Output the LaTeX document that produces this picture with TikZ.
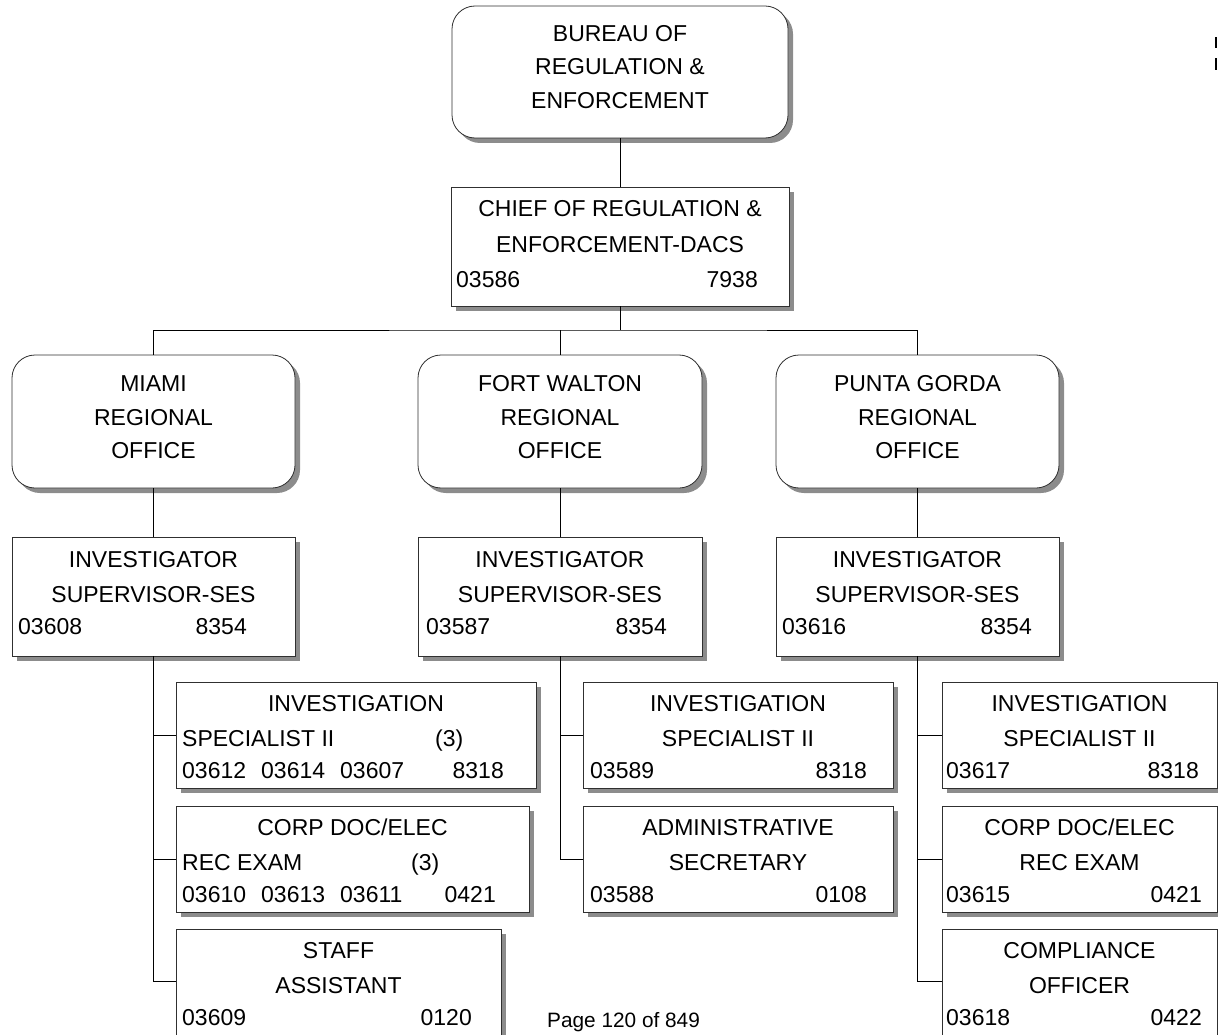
\documentclass[tikz,border=0pt]{standalone}
\usepackage{fontspec}
\setmainfont{Liberation Sans}
\usetikzlibrary{shadows}
\definecolor{shadowgray}{HTML}{8C8C8C}
\definecolor{framegray}{HTML}{303030}
\tikzset{
  orgbox/.style={draw=framegray, line width=0.8pt, fill=white, inner sep=0pt,
    drop shadow={shadow xshift=5pt, shadow yshift=-5pt, fill=shadowgray, opacity=1}},
  roundbox/.style={orgbox, rounded corners=23pt},
  link/.style={draw=black, line width=0.8pt},
  lbl/.style={inner sep=0pt, font=\fontsize{23}{28}\selectfont},
  pagelbl/.style={inner sep=0pt, font=\fontsize{20.8}{24}\selectfont},
}
% centred line, left-aligned line and right-aligned line
\newcommand\ctrtext[4]{\node[lbl, anchor=base] (#1) at (#2,#3) {#4};}
\newcommand\lfttext[4]{\node[lbl, anchor=base west] (#1) at (#2,#3) {#4};}
\newcommand\rgttext[4]{\node[lbl, anchor=base east] (#1) at (#2,#3) {#4};}
\begin{document}
\begin{tikzpicture}[x=1pt, y=-1pt]
\useasboundingbox (0,0) rectangle (1218,1035);
\clip (0,0) rectangle (1218,1035);

% ---- boxes ----
\node[roundbox, minimum width=336pt, minimum height=132pt] (bureau) at (620,72) {};
\node[orgbox, minimum width=338pt, minimum height=119pt] (chief) at (620,246.5) {};

\node[roundbox, minimum width=283pt, minimum height=133pt] (miami) at (153.5,421.5) {};
\node[roundbox, minimum width=284pt, minimum height=133pt] (fw) at (560,421.5) {};
\node[roundbox, minimum width=283pt, minimum height=133pt] (pg) at (917.5,421.5) {};

\node[orgbox, minimum width=283pt, minimum height=119pt] (msup) at (153.5,596.5) {};
\node[orgbox, minimum width=284pt, minimum height=119pt] (fsup) at (560,596.5) {};
\node[orgbox, minimum width=283pt, minimum height=119pt] (psup) at (917.5,596.5) {};

\node[orgbox, minimum width=360pt, minimum height=106pt] (mis) at (356,735) {};
\node[orgbox, minimum width=353pt, minimum height=106pt] (mcorp) at (352.5,859) {};
\node[orgbox, minimum width=325pt, minimum height=116pt] (mstaff) at (338.5,987) {};

\node[orgbox, minimum width=310pt, minimum height=106pt] (fis) at (738,735) {};
\node[orgbox, minimum width=310pt, minimum height=106pt] (fadm) at (738,859) {};

\node[orgbox, minimum width=275pt, minimum height=106pt] (pis) at (1079.5,735) {};
\node[orgbox, minimum width=275pt, minimum height=106pt] (pcorp) at (1079.5,859) {};
\node[orgbox, minimum width=275pt, minimum height=116pt] (pcomp) at (1079.5,987) {};

% ---- connectors ----
\coordinate (bus) at (620,330);
\draw[link] (bureau.south) -- (chief.north);
\draw[link] (chief.south) -- (bus);
\draw[link] (miami.north) |- (bus) -| (pg.north);
\draw[link] (fw.north) -- (fw.north |- bus);

\draw[link] (miami.south) -- (msup.north);
\draw[link] (fw.south) -- (fsup.north);
\draw[link] (pg.south) -- (psup.north);

\draw[link] (msup.south) |- ([yshift=-53pt]mstaff.north west);
\draw[link] (mis.west) -- (mis.west -| msup.south);
\draw[link] (mcorp.west) -- (mcorp.west -| msup.south);

\draw[link] (fsup.south) |- (fadm.west);
\draw[link] (fis.west) -- (fis.west -| fsup.south);

\draw[link] (psup.south) |- ([yshift=-53pt]pcomp.north west);
\draw[link] (pis.west) -- (pis.west -| psup.south);
\draw[link] (pcorp.west) -- (pcorp.west -| psup.south);

% ---- texts ----
\ctrtext{b1}{620}{42}{BUREAU OF}
\ctrtext{b2}{620}{75}{REGULATION \&}
\ctrtext{b3}{620}{109}{ENFORCEMENT}

\ctrtext{c1}{620}{217}{CHIEF OF REGULATION \&}
\ctrtext{c2}{620}{252}{ENFORCEMENT-DACS}
\lfttext{c3}{456}{287}{03586}
\rgttext{c4}{758}{287}{7938}

\ctrtext{m1}{153.5}{391}{MIAMI}
\ctrtext{m2}{153.5}{425}{REGIONAL}
\ctrtext{m3}{153.5}{458}{OFFICE}
\ctrtext{f1}{560}{391}{FORT WALTON}
\ctrtext{f2}{560}{425}{REGIONAL}
\ctrtext{f3}{560}{458}{OFFICE}
\ctrtext{p1}{917.5}{391}{PUNTA GORDA}
\ctrtext{p2}{917.5}{425}{REGIONAL}
\ctrtext{p3}{917.5}{458}{OFFICE}

\ctrtext{ms1}{153.5}{567}{INVESTIGATOR}
\ctrtext{ms2}{153.5}{602}{SUPERVISOR-SES}
\lfttext{ms3}{18}{634}{03608}
\rgttext{ms4}{247}{634}{8354}
\ctrtext{fs1}{560}{567}{INVESTIGATOR}
\ctrtext{fs2}{560}{602}{SUPERVISOR-SES}
\lfttext{fs3}{426}{634}{03587}
\rgttext{fs4}{667}{634}{8354}
\ctrtext{ps1}{917.5}{567}{INVESTIGATOR}
\ctrtext{ps2}{917.5}{602}{SUPERVISOR-SES}
\lfttext{ps3}{782}{634}{03616}
\rgttext{ps4}{1032}{634}{8354}

% Miami staff
\ctrtext{mi1}{356}{711}{INVESTIGATION}
\lfttext{mi2}{182}{746}{SPECIALIST II}
\lfttext{mi3}{435}{746}{(3)}
\lfttext{mi4}{182}{778}{03612}
\lfttext{mi5}{261}{778}{03614}
\lfttext{mi6}{340}{778}{03607}
\rgttext{mi7}{504}{778}{8318}

\ctrtext{mc1}{352.5}{835}{CORP DOC/ELEC}
\lfttext{mc2}{182}{870}{REC EXAM}
\lfttext{mc3}{411}{870}{(3)}
\lfttext{mc4}{182}{902}{03610}
\lfttext{mc5}{261}{902}{03613}
\lfttext{mc6}{340}{902}{03611}
\rgttext{mc7}{496}{902}{0421}

\ctrtext{mt1}{338.5}{958}{STAFF}
\ctrtext{mt2}{338.5}{993}{ASSISTANT}
\lfttext{mt3}{182}{1025}{03609}
\rgttext{mt4}{472}{1025}{0120}

% Fort Walton staff
\ctrtext{fi1}{738}{711}{INVESTIGATION}
\ctrtext{fi2}{738}{746}{SPECIALIST II}
\lfttext{fi3}{590}{778}{03589}
\rgttext{fi4}{867}{778}{8318}

\ctrtext{fa1}{738}{835}{ADMINISTRATIVE}
\ctrtext{fa2}{738}{870}{SECRETARY}
\lfttext{fa3}{590}{902}{03588}
\rgttext{fa4}{867}{902}{0108}

% Punta Gorda staff
\ctrtext{pi1}{1079.5}{711}{INVESTIGATION}
\ctrtext{pi2}{1079.5}{746}{SPECIALIST II}
\lfttext{pi3}{946}{778}{03617}
\rgttext{pi4}{1199}{778}{8318}

\ctrtext{pc1}{1079.5}{835}{CORP DOC/ELEC}
\ctrtext{pc2}{1079.5}{870}{REC EXAM}
\lfttext{pc3}{946}{902}{03615}
\rgttext{pc4}{1202}{902}{0421}

\ctrtext{po1}{1079.5}{958}{COMPLIANCE}
\ctrtext{po2}{1079.5}{993}{OFFICER}
\lfttext{po3}{946}{1025}{03618}
\rgttext{po4}{1202}{1025}{0422}

% page footer
\node[pagelbl, anchor=base west] (pagenum) at (547,1027) {Page 120 of 849};

% marks at the right edge
\fill[black] (1215,37) rectangle (1217,48);
\fill[black] (1215,58) rectangle (1217,70);
\end{tikzpicture}
\end{document}
